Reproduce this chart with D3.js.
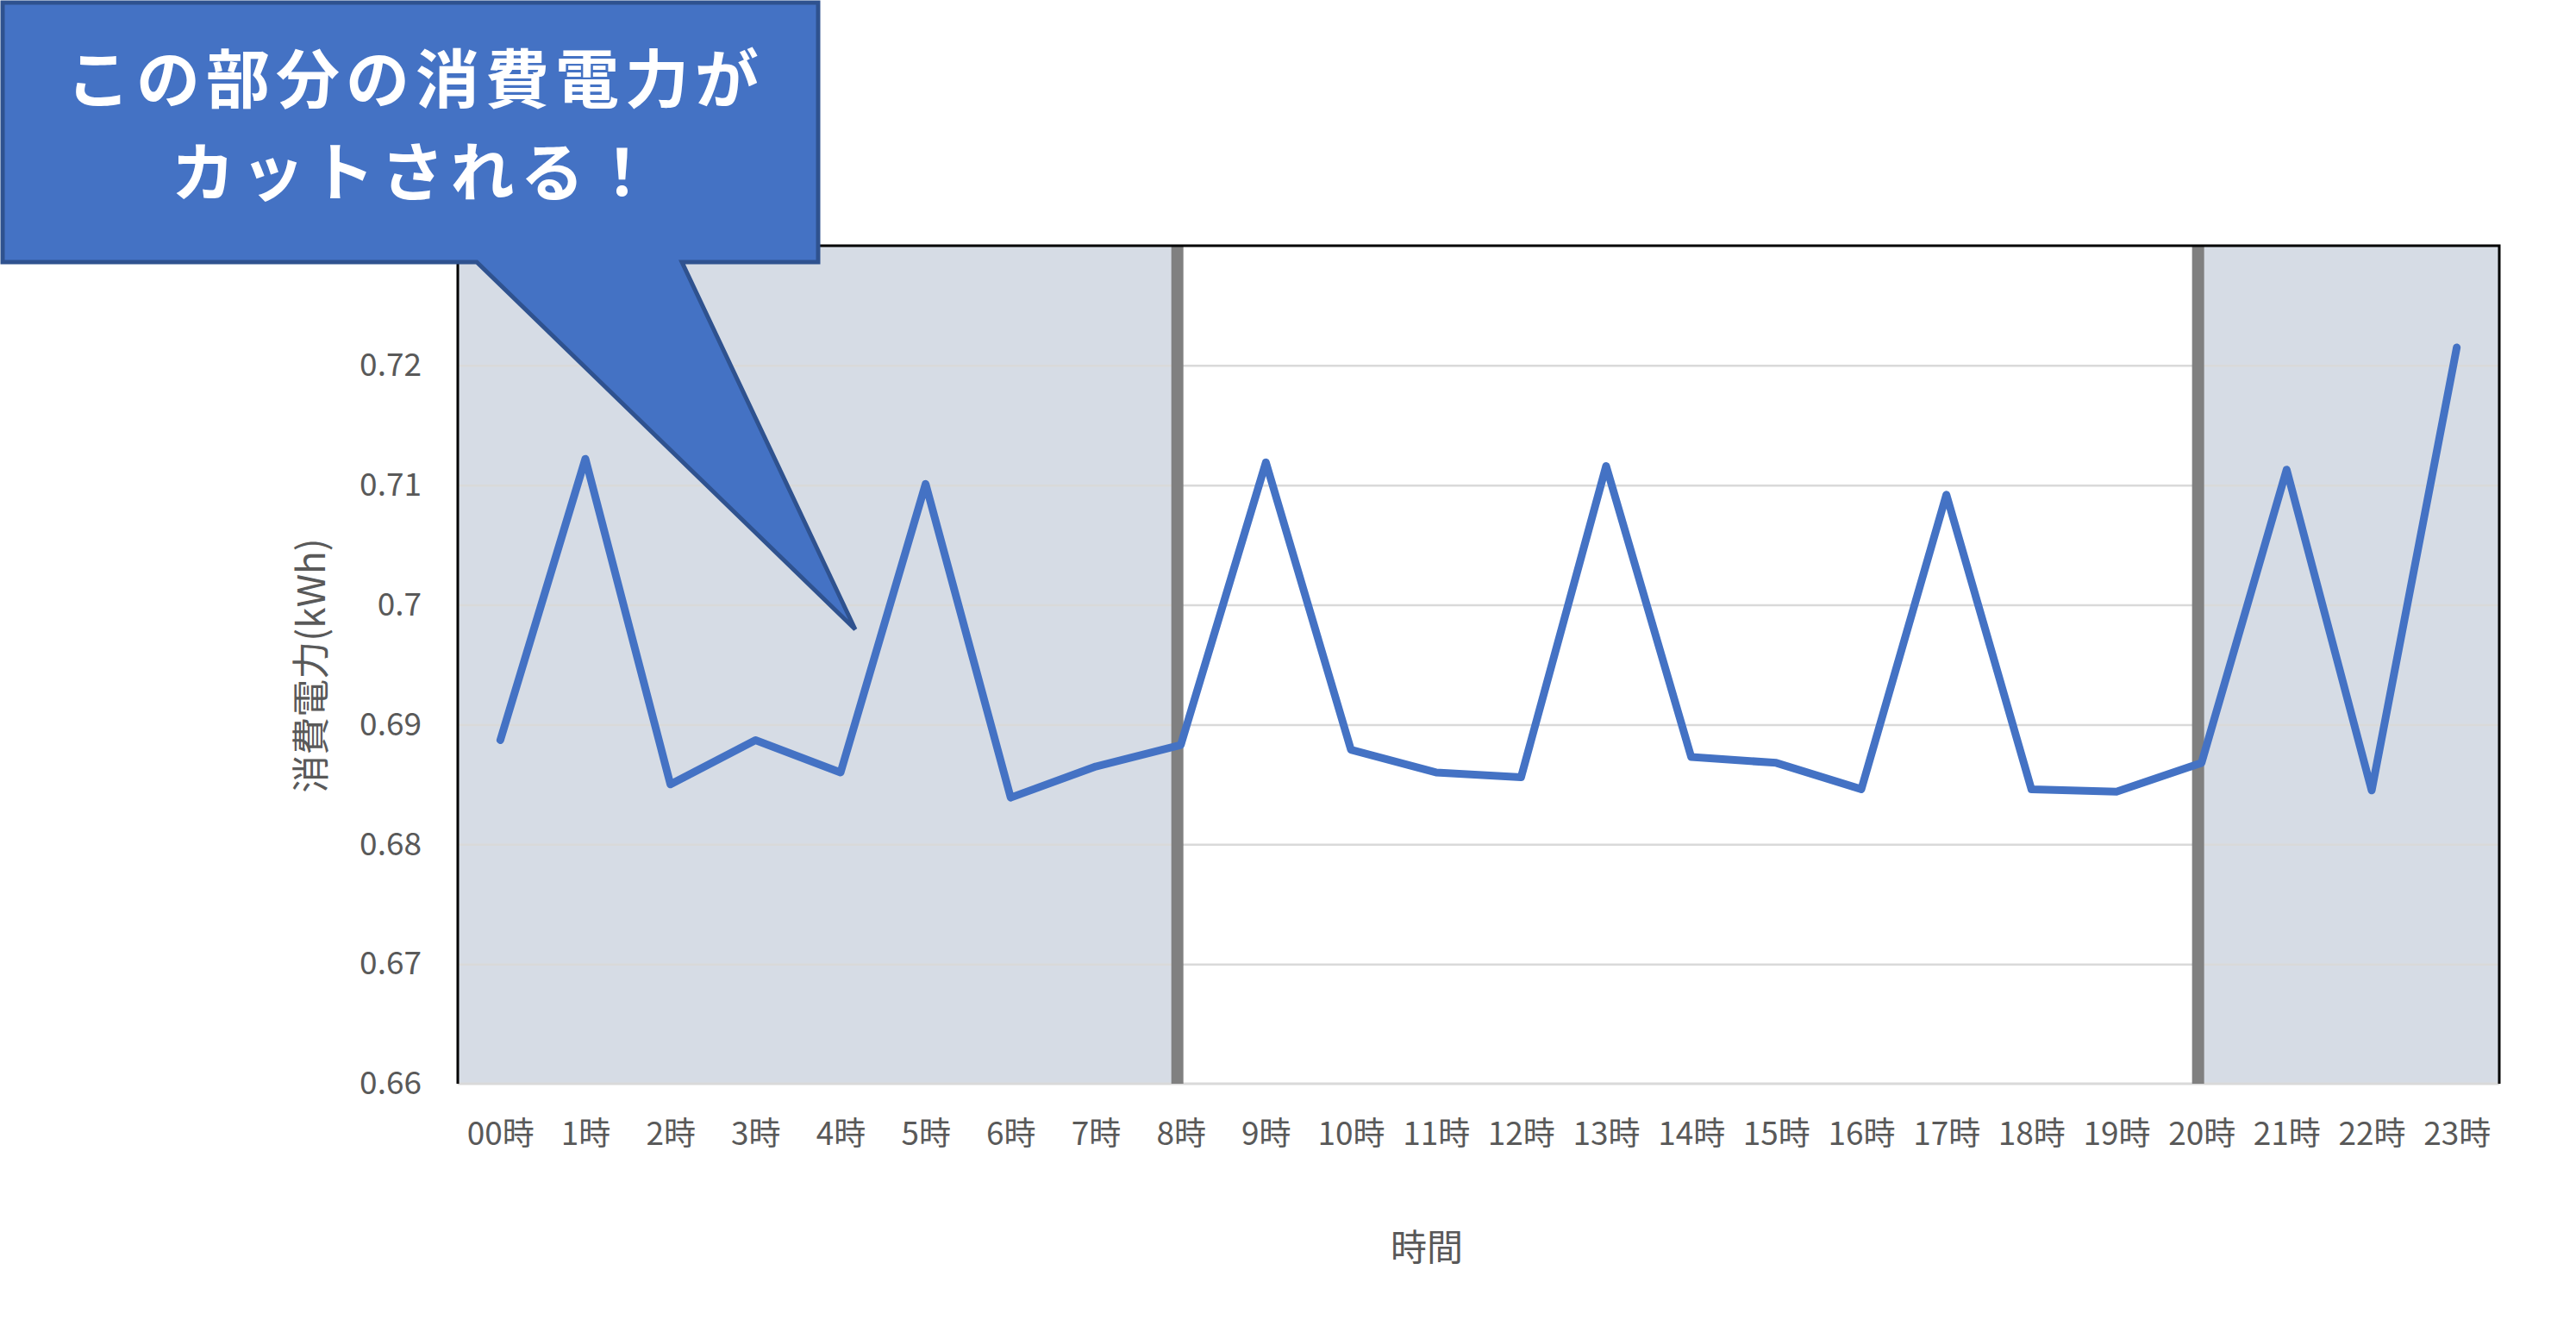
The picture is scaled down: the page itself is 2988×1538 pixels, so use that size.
<!DOCTYPE html>
<html>
<head>
<meta charset="utf-8">
<script src="https://cdn.jsdelivr.net/npm/d3@7"></script>
<style>
  html, body { margin: 0; padding: 0; background: #fff; }
  svg { display: block; }
  text { font-family: "Noto Sans CJK JP", "Noto Sans", sans-serif; }
</style>
</head>
<body>
<svg id="chart" width="2988" height="1538"></svg>
<script>
// ---- data ----
const hours = ["00時","1時","2時","3時","4時","5時","6時","7時","8時","9時","10時","11時",
               "12時","13時","14時","15時","16時","17時","18時","19時","20時","21時","22時","23時"];
const usage = [0.6887, 0.7122, 0.6850, 0.6887, 0.6860, 0.7101, 0.6839, 0.6865, 0.6883,
               0.7119, 0.6879, 0.6860, 0.6856, 0.7116, 0.6873, 0.6868, 0.6846, 0.7092,
               0.6846, 0.6844, 0.6868, 0.7113, 0.6845, 0.7215];
const yTicks = [0.66, 0.67, 0.68, 0.69, 0.70, 0.71, 0.72];
const yTickLabels = ["0.66", "0.67", "0.68", "0.69", "0.7", "0.71", "0.72"];
const yDomain = [0.66, 0.73];
const cutStartHour = "8時";
const cutEndHour = "20時";
const calloutLines = ["この部分の消費電力が", "カットされる！"];
const xTitle = "時間";
const yTitle = "消費電力(kWh)";

// ---- layout ----
const plotL = 531, plotR = 2899, plotT = 285, plotB = 1257;
const svg = d3.select("#chart");

const x = d3.scalePoint().domain(hours).range([plotL, plotR]).padding(0.5);
const y = d3.scaleLinear().domain(yDomain).range([plotB, plotT]);

// shaded regions (cut periods)
svg.append("rect")
  .attr("x", plotL).attr("y", plotT)
  .attr("width", x(cutStartHour) - plotL).attr("height", plotB - plotT)
  .attr("fill", "#d6dce5");
svg.append("rect")
  .attr("x", x(cutEndHour)).attr("y", plotT)
  .attr("width", plotR - x(cutEndHour)).attr("height", plotB - plotT)
  .attr("fill", "#d6dce5");

// gridlines
const grid = svg.append("g")
  .attr("transform", `translate(${plotL},0)`)
  .call(d3.axisLeft(y).tickValues(yTicks.slice(1)).tickSize(-(plotR - plotL)).tickFormat(""));
grid.select(".domain").remove();
grid.selectAll("line").attr("stroke", "#d9d9d9").attr("stroke-width", 2.5);

// bottom axis line
svg.append("line")
  .attr("x1", plotL).attr("x2", plotR)
  .attr("y1", y(yDomain[0])).attr("y2", y(yDomain[0]))
  .attr("stroke", "#d9d9d9").attr("stroke-width", 3);

// cut boundary lines
[cutStartHour, cutEndHour].forEach(h => {
  svg.append("line")
    .attr("x1", x(h) - 4).attr("x2", x(h) - 4)
    .attr("y1", plotT).attr("y2", plotB)
    .attr("stroke", "#808080").attr("stroke-width", 14);
});

// plot border (top, left, right)
svg.append("path")
  .attr("d", `M${plotL},${plotB} L${plotL},${plotT} L${plotR},${plotT} L${plotR},${plotB}`)
  .attr("fill", "none").attr("stroke", "#000").attr("stroke-width", 3);

// y axis labels
const yAxis = svg.append("g")
  .attr("transform", `translate(${plotL},0)`)
  .call(d3.axisLeft(y).tickValues(yTicks).tickSize(0).tickPadding(42)
        .tickFormat((d, i) => yTickLabels[i]));
yAxis.select(".domain").remove();
yAxis.selectAll("text")
  .attr("font-size", 37).attr("fill", "#595959")
  .style("font-family", '"Noto Sans CJK JP", sans-serif');

// x axis labels
const xAxis = svg.append("g")
  .attr("transform", `translate(0,${plotB})`)
  .call(d3.axisBottom(x).tickSize(0));
xAxis.select(".domain").remove();
xAxis.selectAll("text")
  .attr("y", 58).attr("dy", "0.35em")
  .attr("font-size", 37).attr("fill", "#595959")
  .style("font-family", '"Noto Sans CJK JP", sans-serif');

// data line
const line = d3.line().x((d, i) => x(hours[i])).y(d => y(d));
svg.append("path")
  .datum(usage)
  .attr("d", line)
  .attr("fill", "none")
  .attr("stroke", "#4472c4")
  .attr("stroke-width", 9)
  .attr("stroke-linejoin", "round")
  .attr("stroke-linecap", "round");

// axis titles
svg.append("text")
  .attr("x", (plotL + plotR) / 2 - 60).attr("y", 1443)
  .attr("text-anchor", "middle").attr("dominant-baseline", "central")
  .attr("font-size", 42).attr("fill", "#595959")
  .text(xTitle);
svg.append("text")
  .attr("transform", `translate(358,772) rotate(-90)`)
  .attr("text-anchor", "middle").attr("dominant-baseline", "central")
  .attr("font-size", 44).attr("fill", "#595959")
  .text(yTitle);

// callout
const bx0 = 3, by0 = 3, bx1 = 949, by1 = 304;
const callout = d3.path();
callout.moveTo(bx0, by0);
callout.lineTo(bx1, by0);
callout.lineTo(bx1, by1);
callout.lineTo(791, by1);
callout.lineTo(992, 730);
callout.lineTo(553, by1);
callout.lineTo(bx0, by1);
callout.closePath();
svg.append("path")
  .attr("d", callout.toString())
  .attr("fill", "#4472c4")
  .attr("stroke", "#2f528f")
  .attr("stroke-width", 5)
  .attr("stroke-linejoin", "miter");

const ctext = svg.append("text")
  .attr("text-anchor", "middle")
  .attr("font-size", 74).attr("font-weight", "bold").attr("fill", "#fff")
  .attr("letter-spacing", 7);
ctext.selectAll("tspan")
  .data(calloutLines)
  .enter().append("tspan")
  .attr("x", 482)
  .attr("y", (d, i) => 119 + i * 108)
  .text(d => d);
</script>
</body>
</html>
